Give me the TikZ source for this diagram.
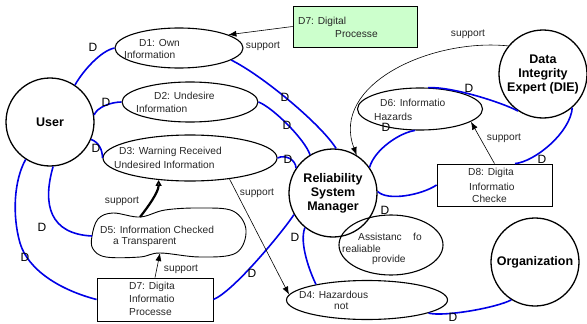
\documentclass[tikz,border=0pt]{standalone}
\usepackage{fontspec}
\setmainfont{Liberation Sans}
\usetikzlibrary{shapes.geometric,arrows.meta}
\definecolor{lgreen}{RGB}{204,255,204}
\definecolor{dblue}{RGB}{0,0,230}
\begin{document}
\begin{tikzpicture}[x=1pt,y=-1pt,
 ent/.style={circle,draw,line width=1.3pt,minimum size=88pt,inner sep=0pt,font=\fontsize{12.5}{14}\selectfont\bfseries,align=center},
 proc/.style={ellipse,draw,line width=1.1pt,inner sep=0pt},
 store/.style={rectangle,draw,line width=0.8pt,inner sep=0pt},
 txt/.style={anchor=west,inner sep=0pt,font=\fontsize{10.2}{11}\selectfont,text=black!85},
 dl/.style={inner sep=0pt,font=\fontsize{12}{12}\selectfont},
 flow/.style={draw=dblue,line width=1.6pt},
 sup/.style={draw,line width=0.6pt,-{Latex[length=8pt,width=6pt]}},
 thicksup/.style={draw,line width=2.2pt,-{Triangle[open,length=6pt,width=6pt]}},
 suplab/.style={inner sep=0pt,font=\fontsize{10.2}{11}\selectfont,text=black!85}]
\useasboundingbox (0,0) rectangle (587,324);

% entities
\node[ent] (user) at (50,122) {User};
\node[ent] (rsm) at (333,193) {Reliability\\System\\Manager};
\node[ent] (die) at (543,74) {Data\\Integrity\\Expert (DIE)};
\node[ent] (org) at (535,262) {Organization};

% processes
\node[proc,minimum width=128pt,minimum height=40pt] (d1) at (179,48) {};
\node[proc,minimum width=136pt,minimum height=40pt] (d2) at (190,102) {};
\node[proc,minimum width=174pt,minimum height=46pt] (d3) at (190,158) {};
\node[proc,minimum width=125pt,minimum height=42pt] (d6) at (420,109) {};
\node[proc,minimum width=104pt,minimum height=60pt] (asst) at (391,245) {};
\node[proc,minimum width=161pt,minimum height=39pt] (d4) at (367,300) {};

% stores
\node[store,fill=lgreen,minimum width=124pt,minimum height=41pt] (d7a) at (355,26.5) {};
\node[store,minimum width=116pt,minimum height=43pt] (d7b) at (155,299.5) {};
\node[store,minimum width=115pt,minimum height=42pt] (d8) at (494.5,185) {};

% D5 blob
\draw[line width=0.9pt] plot[smooth cycle,tension=0.6] coordinates {(92,236) (98,219) (113,213) (140,217) (165,210) (200,208) (233,211) (246,230) (236,253) (200,257) (160,253) (140,257) (106,257) (93,249)};
\coordinate (d5w) at (92,236);
\coordinate (d5n) at (140,217);
\coordinate (d5s) at (160,253);

% texts
\node[txt] (t1a) at (139,43) {D1: Own};
\node[txt] (t1b) at (124,55) {Information};
\node[txt] (t2a) at (154,96) {D2: Undesire};
\node[txt] (t2b) at (136,109) {Information};
\node[txt] (t3a) at (119,152) {D3: Warning Received};
\node[txt] (t3b) at (114,165) {Undesired Information};
\node[txt] (t5a) at (100,230) {D5: Information Checked};
\node[txt] (t5b) at (113,242) {a Transparent};
\node[txt] (t7a) at (129,287) {D7: Digita};
\node[txt] (t7b) at (129,299) {Informatio};
\node[txt] (t7c) at (129,312) {Processe};
\node[txt] (tga) at (298,22) {D7: Digital};
\node[txt] (tgb) at (335,34) {Processe};
\node[txt] (t6a) at (380,103) {D6: Informatio};
\node[txt] (t6b) at (374,117) {Hazards};
\node[txt] (t8a) at (468,173) {D8: Digita};
\node[txt] (t8b) at (469,187) {Informatio};
\node[txt] (t8c) at (472,199) {Checke};
\node[txt] (taa) at (358,237) {Assistanc};
\node[txt] (tab) at (413,237) {fo};
\node[txt] (tac) at (342,249) {realiable};
\node[txt] (tad) at (372,260) {provide};
\node[txt] (t4a) at (299,295) {D4: Hazardous};
\node[txt] (t4b) at (334,306) {not};

% blue flows
\draw[flow] (user.56) .. controls +(8,-14) and +(-14,3) .. (d1.west);
\draw[flow] (user.9) .. controls +(3,-8) and +(-10,0) .. (d2.west);
\draw[flow] (user.-23) .. controls +(8,3) and +(0,-8) .. (d3.west);
\draw[flow] (user.-86) .. controls (42,205) and (50,234) .. (d5w);
\draw[flow] (user.-123) .. controls (14,180) and (12,215) .. (20,243) .. controls (28,270) and (60,290) .. (d7b.west);
\draw[flow] (d1.-13) .. controls +(32,16) and +(-15,-24) .. (rsm.86);
\draw[flow] (d2.east) .. controls +(15,6) and +(-5,-15) .. (rsm.121);
\draw[flow] (d3.east) .. controls +(8,-4) and +(0,-8) .. (rsm.146);
\draw[flow] (rsm.35) .. controls +(5,-18) and +(-15,2) .. (d6.-103);
\draw[flow] (d6.69) .. controls +(25,-1) and +(-15,-8) .. (die.-124);
\draw[flow] (die.-49) .. controls +(-2,25) and +(20,-2) .. ([xshift=20.5pt]d8.north);
\draw[flow] (rsm.2) .. controls +(10,10) and +(-15,10) .. (d8.west);
\draw[flow] (rsm.-129) .. controls +(-6,15) and +(-6,-12) .. (d4.163);
\draw[flow] (d7b.east) .. controls +(20,-8) and +(-12,18) .. (rsm.-151);
\draw[flow] (d4.-12) .. controls +(15,4) and +(-15,8) .. (org.-122);

% support arrows
\draw[sup] (d7a.west) -- (d1.15);
\draw[sup] (die.141) .. controls (430,38) and (330,85) .. (rsm.58);
\draw[sup] (d8.north) -- (d6.-14);
\draw[sup] (d3.-28) -- (d4.176);
\draw[thicksup] (d5n) .. controls +(8,-10) and +(0,12) .. (d3.-145);
\draw[sup] (d7b.north) -- (d5s);

% support labels
\node[suplab] (s1) at (263,46) {support};
\node[suplab] (s2) at (468,34) {support};
\node[suplab] (s3) at (504,138) {support};
\node[suplab] (s4) at (257,193) {support};
\node[suplab] (s5) at (122,201) {support};
\node[suplab] (s6) at (181,269) {support};

% D labels
\node[dl] (l1) at (93,47) {D};
\node[dl] (l2) at (106,102) {D};
\node[dl] (l3) at (96,148) {D};
\node[dl] (l4) at (42,227) {D};
\node[dl] (l5) at (25,257) {D};
\node[dl] (l6) at (285,97) {D};
\node[dl] (l7) at (287,125) {D};
\node[dl] (l8) at (288,159) {D};
\node[dl] (l9) at (386,127) {D};
\node[dl] (l10) at (469,88) {D};
\node[dl] (l11) at (542,159) {D};
\node[dl] (l12) at (385,210) {D};
\node[dl] (l13) at (295,237) {D};
\node[dl] (l14) at (252,273) {D};
\node[dl] (l15) at (453,317) {D};
\end{tikzpicture}
\end{document}
